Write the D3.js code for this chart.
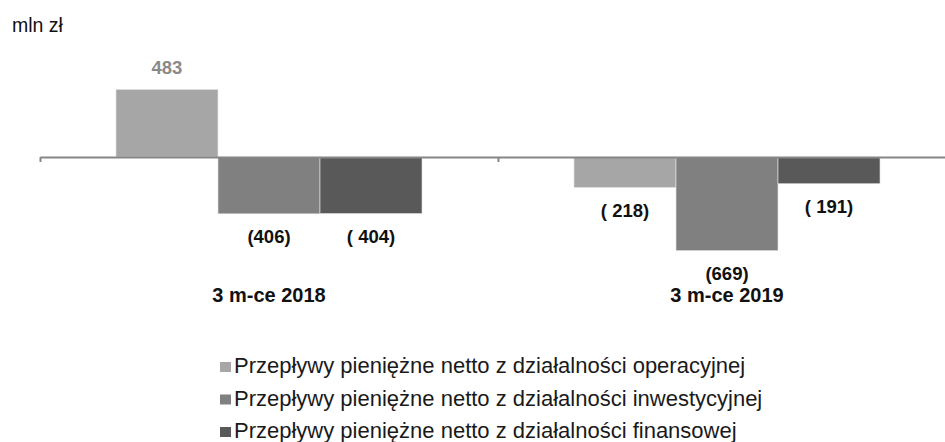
<!DOCTYPE html>
<html>
<head>
    <meta charset="utf-8">
    <title>Przepływy pieniężne</title>
    <script src="https://cdn.jsdelivr.net/npm/d3@7"></script>
    <style>
        html, body {
            margin: 0;
            background-color: #fff;
            font-family: "Liberation Sans", Arial, Helvetica, sans-serif;
        }
        svg .val { font-weight: bold; font-size: 18.5px; text-anchor: middle; }
        svg .cat { font-weight: bold; font-size: 20px; text-anchor: middle; fill: #111; }
        svg .legend text { font-size: 22px; fill: #1a1a1a; }
    </style>
</head>
<body>
<svg></svg>
<script>
    // data
    var categories = ['3 m-ce 2018', '3 m-ce 2019'];
    var series = [
        'Przepływy pieniężne netto z działalności operacyjnej',
        'Przepływy pieniężne netto z działalności inwestycyjnej',
        'Przepływy pieniężne netto z działalności finansowej'
    ];
    var values = [
        [483, -218],
        [-406, -669],
        [-404, -191]
    ];
    var labels = [
        ['483', '( 218)'],
        ['(406)', '(669)'],
        ['( 404)', '( 191)']
    ];
    var colors = ['#a6a6a6', '#808080', '#595959'];

    (function () {
        var w = 945, h = 442;

        var svg = d3.select('svg').attr('width', w).attr('height', h);

        var x0 = d3.scaleBand().domain(categories).range([40, 956]);
        var x1 = d3.scaleBand().domain(d3.range(series.length))
                .range([0, x0.bandwidth()]).paddingOuter(0.745);
        var y = d3.scaleLinear().domain([-700, 700]).range([255, 59]);

        svg.append('text')
            .attr('x', 12).attr('y', 32)
            .style('font-size', '19.5px').style('fill', '#111')
            .text('mln zł');

        // bars
        var rows = [];
        series.forEach(function (s, i) {
            categories.forEach(function (c, j) {
                rows.push({ s: i, c: c, v: values[i][j], lab: labels[i][j] });
            });
        });

        svg.append('g').selectAll('rect')
            .data(rows).enter().append('rect')
            .attr('x', function (d) { return x0(d.c) + x1(d.s); })
            .attr('width', x1.bandwidth())
            .attr('y', function (d) { return y(Math.max(0, d.v)); })
            .attr('height', function (d) { return Math.abs(y(d.v) - y(0)); })
            .style('fill', function (d) { return colors[d.s]; })
            .style('stroke', '#e6e6e6')
            .style('stroke-width', 0.6);

        // axis with ticks at category boundaries
        var xb = d3.scaleLinear().domain([0, categories.length]).range(x0.range());
        var ax = svg.append('g')
            .attr('transform', 'translate(0,' + y(0) + ')')
            .call(d3.axisBottom(xb).tickValues([0, 1, 2]).tickFormat('')
                .tickSizeInner(5).tickSizeOuter(0));
        ax.selectAll('path, line').style('stroke', '#868686').style('stroke-width', 2);

        // value labels
        svg.append('g').selectAll('text')
            .data(rows).enter().append('text')
            .attr('class', 'val')
            .attr('x', function (d) { return x0(d.c) + x1(d.s) + x1.bandwidth() / 2; })
            .attr('y', function (d) { return d.v > 0 ? y(d.v) - 15 : y(d.v) + 29; })
            .style('fill', function (d) { return d.v > 0 ? '#8a8a8a' : '#111'; })
            .text(function (d) { return d.lab; });

        // category labels
        svg.append('g').selectAll('text')
            .data(categories).enter().append('text')
            .attr('class', 'cat')
            .attr('x', function (d) { return x0(d) + x0.bandwidth() / 2; })
            .attr('y', 302)
            .text(function (d) { return d; });

        // legend
        var lg = svg.append('g').attr('class', 'legend')
            .attr('transform', 'translate(220,373)');
        var item = lg.selectAll('g').data(series).enter().append('g')
            .attr('transform', function (d, i) { return 'translate(0,' + i * 32.5 + ')'; });
        item.append('rect')
            .attr('x', 0).attr('y', -11).attr('width', 11).attr('height', 10)
            .style('fill', function (d, i) { return colors[i]; });
        item.append('text')
            .attr('x', 14).attr('y', 0)
            .text(function (d) { return d; });
    })();
</script>
</body>
</html>
